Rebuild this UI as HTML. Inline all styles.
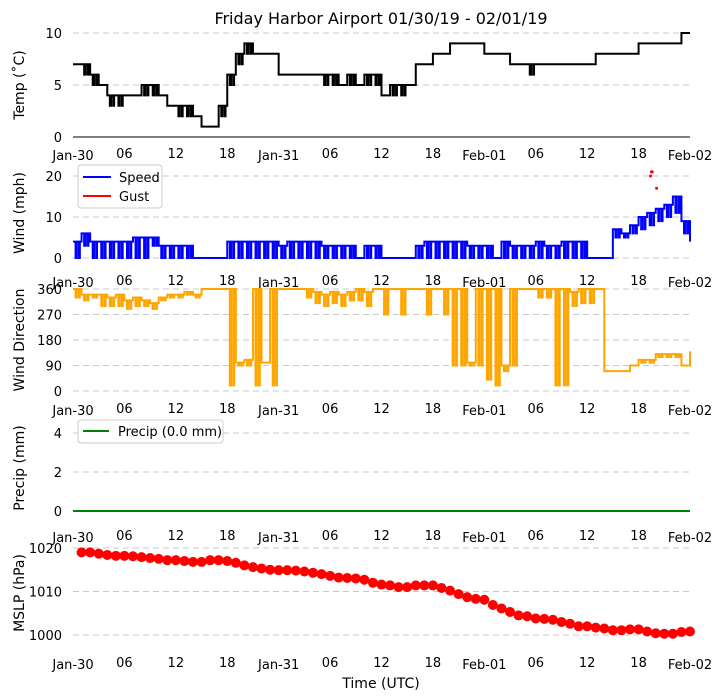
<!DOCTYPE html>
<html><head><meta charset="utf-8"><style>
body{margin:0;background:#fff;}
svg{display:block;font-family:"DejaVu Sans","Liberation Sans",sans-serif;}
</style></head><body>
<svg id="c" width="721" height="700" xmlns="http://www.w3.org/2000/svg"></svg>
<script>
const temps=[7,7,6,5,4,4,4,4,5,5,4,3,3,3,2,1,1,3,6,8,9,8,8,8,6,6,6,6,6,6,6,5,6,5,6,6,4,5,5,5,7,7,8,8,9,9,9,9,8,8,8,7,7,7,7,7,7,7,7,7,7,8,8,8,8,8,9,9,9,9,9,10,10];
const tempsLow=[7,6,5,5,3,3,4,4,4,4,4,3,2,2,2,1,1,2,5,7,8,8,8,8,6,6,6,6,6,5,5,5,5,5,5,5,4,4,4,5,7,7,8,8,9,9,9,9,8,8,8,7,7,6,7,7,7,7,7,7,7,8,8,8,8,8,9,9,9,9,9,10,10];
const speeds=[4,6,4,4,4,4,4,5,5,5,3,3,3,3,0,0,0,0,4,4,4,4,4,4,3,4,4,4,4,3,3,3,3,0,3,3,0,0,0,0,3,4,4,4,4,4,3,3,3,0,4,3,3,3,4,3,3,4,4,4,0,0,0,7,6,8,10,11,12,13,15,9,4];
const speedsLow=[0,3,0,0,0,0,0,0,0,3,0,0,0,0,0,0,0,0,0,0,0,0,0,0,0,0,0,0,0,0,0,0,0,0,0,0,0,0,0,0,0,0,0,0,0,0,0,0,0,0,0,0,0,0,0,0,0,0,0,0,0,0,0,5,5,6,7,8,9,10,11,6,0];
const gustHours=[67.4,67.5,67.6,68.1];
const gusts=[20,21,21,17];
const dirs=[360,340,340,340,330,340,320,330,320,310,330,340,340,350,340,360,360,360,360,100,110,360,100,360,360,360,360,360,350,340,350,340,350,360,350,360,360,360,360,360,360,360,360,360,360,360,100,360,360,360,90,360,360,360,360,360,360,360,350,360,360,360,70,70,70,90,110,110,130,130,130,90,140];
const dirsLow=[330,320,330,300,300,300,290,300,300,290,320,330,330,340,330,360,360,360,20,90,90,20,100,20,360,360,360,330,310,300,310,300,320,320,300,360,270,360,270,360,360,270,360,270,90,90,90,90,40,20,70,90,360,360,330,330,20,20,300,310,310,360,70,70,70,90,100,100,120,120,120,90,130];
const precip=new Array(73).fill(0);
const mslpHours=[];for(let h=1;h<=72;h++)mslpHours.push(h);
const mslp=[1019,1019,1018.7,1018.4,1018.2,1018.2,1018.1,1017.9,1017.7,1017.5,1017.2,1017.2,1017,1016.8,1016.8,1017.2,1017.2,1017,1016.6,1016,1015.6,1015.3,1015,1014.9,1014.9,1014.8,1014.6,1014.3,1014,1013.6,1013.2,1013.1,1013,1012.7,1012,1011.6,1011.4,1011,1011,1011.4,1011.4,1011.4,1010.8,1010.2,1009.4,1008.7,1008.3,1008.1,1006.9,1006.1,1005.3,1004.5,1004.3,1003.8,1003.7,1003.5,1003,1002.6,1002,1002,1001.7,1001.5,1001.1,1001.1,1001.3,1001.3,1000.8,1000.4,1000.3,1000.3,1000.7,1000.8];
const xTickLabels=["Jan-30","06","12","18","Jan-31","06","12","18","Feb-01","06","12","18","Feb-02"];

const svg=document.getElementById('c');
const NS="http://www.w3.org/2000/svg";
function el(t,a,txt){const e=document.createElementNS(NS,t);for(const k in a)e.setAttribute(k,a[k]);if(txt!==undefined)e.textContent=txt;svg.appendChild(e);return e;}
const X0=73,X1=690;
function x(h){return X0+(X1-X0)*h/72;}
function mkY(v0,v1,p0,p1){return v=>p0+(v-v0)*(p1-p0)/(v1-v0);}

let t=el('text',{x:381,y:24,'text-anchor':'middle','font-size':16},'Friday Harbor Airport 01/30/19 - 02/01/19');


function panel(name,title,ticks,y,labelY,titleY){
  ticks.forEach(v=>{
    const g=el('line',{x1:X0,x2:X1,y1:y(v),y2:y(v),stroke:'#c8c8c8','stroke-dasharray':'6,4','stroke-width':1});
    
    const l=el('text',{x:62,y:y(v)+5,'text-anchor':'end','font-size':13},String(v));
    
  });
  xTickLabels.forEach((s,i)=>{
    const isDate=s.length>2;
    const l=el('text',{x:x(i*6),y:labelY+(isDate?2:0),'text-anchor':'middle','font-size':13},s);
    
  });
  const yt=el('text',{x:0,y:0,'text-anchor':'middle','font-size':14,transform:`translate(24,${titleY}) rotate(-90)`},title);
  
}
function noisyPath(vals,lows,y){
  let d='';
  vals.forEach((v,i)=>{
    if(i===0)d+=`M${x(0)},${y(v)}`;else d+=`H${x(i)}V${y(v)}`;
    if(lows&&lows[i]!==v&&i<vals.length-1){
      d+=`H${x(i+0.3)}V${y(lows[i])}H${x(i+0.45)}V${y(v)}`;
      d+=`H${x(i+0.7)}V${y(lows[i])}H${x(i+0.8)}V${y(v)}`;
    }
  });
  return d;
}

// Temp
const yT=mkY(0,10,137,33);
panel('temp','Temp (˚C)',[0,5,10],yT,158,85);
let ax=el('line',{x1:X0,x2:X1,y1:137,y2:137,stroke:'#000','stroke-width':1});

let p=el('path',{d:noisyPath(temps,tempsLow,yT),fill:'none',stroke:'#000','stroke-width':2});


// Wind
const yW=mkY(0,20,258,176);
panel('wind','Wind (mph)',[0,10,20],yW,285,213);
p=el('path',{d:noisyPath(speeds,speedsLow,yW),fill:'none',stroke:'#0000ff','stroke-width':2});

gusts.forEach((g,i)=>{const c=el('circle',{cx:x(gustHours[i]),cy:yW(g),r:1.5,fill:'#ff0000'});
});
let lg=el('rect',{x:78,y:165,width:84,height:43,fill:'#fff',stroke:'#ccc',rx:3});

el('line',{x1:83,x2:111,y1:177,y2:177,stroke:'#0000ff','stroke-width':2});
t=el('text',{x:119,y:182,'font-size':13},'Speed');
el('line',{x1:83,x2:111,y1:196,y2:196,stroke:'#ff0000','stroke-width':2});
t=el('text',{x:119,y:201,'font-size':13},'Gust');

// Wind dir
const yD=mkY(0,360,391,289);
panel('wind-dir','Wind Direction',[0,90,180,270,360],yD,413,340);
p=el('path',{d:noisyPath(dirs,dirsLow,yD),fill:'none',stroke:'#ffa500','stroke-width':2});


// Precip
const yP=mkY(0,4,511,433);
panel('precip','Precip (mm)',[0,2,4],yP,540,468);
p=el('path',{d:noisyPath(precip,null,yP),fill:'none',stroke:'#008000','stroke-width':2});

lg=el('rect',{x:78,y:420,width:145,height:23,fill:'#fff',stroke:'#ccc',rx:3});

el('line',{x1:83,x2:109,y1:431,y2:431,stroke:'#008000','stroke-width':2});
t=el('text',{x:118,y:436,'font-size':13},'Precip (0.0 mm)');

// MSLP
const yM=mkY(1000,1020,635,548);
panel('mslp','MSLP (hPa)',[1000,1010,1020],yM,667,593);
mslp.forEach((v,i)=>{const c=el('circle',{cx:x(mslpHours[i]),cy:yM(v),r:5,fill:'#ff0000'});
});
t=el('text',{x:381,y:688,'text-anchor':'middle','font-size':14},'Time (UTC)');

</script>
</body></html>
